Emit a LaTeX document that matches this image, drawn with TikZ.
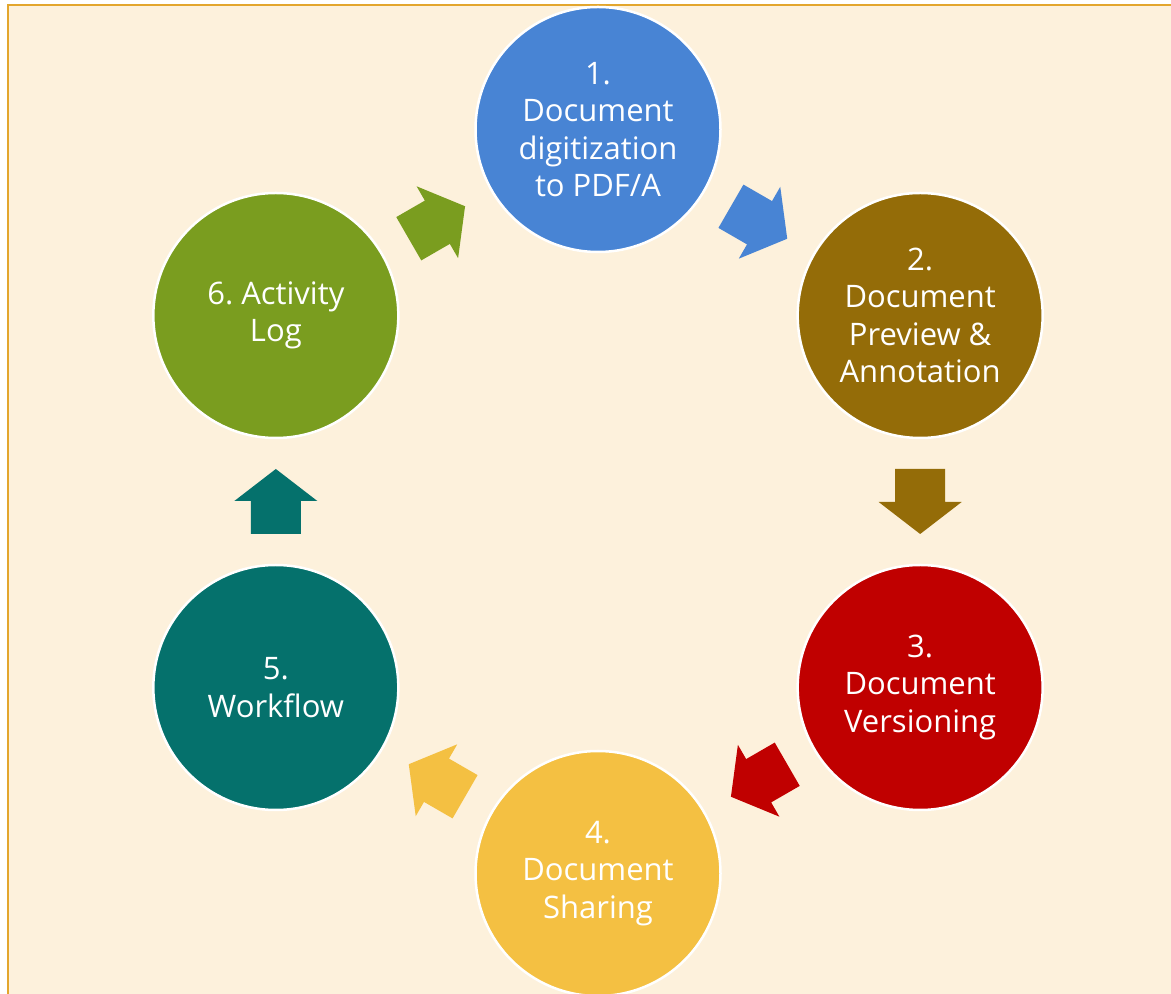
\documentclass[tikz,border=0pt]{standalone}
\usepackage{fontspec}
\setmainfont{Open Sans}
\usetikzlibrary{calc}

\definecolor{pagebg}{HTML}{FDF1DC}
\definecolor{frameline}{HTML}{E3A62D}
\definecolor{stepblue}{HTML}{4884D4}
\definecolor{stepbrown}{HTML}{946C08}
\definecolor{stepred}{HTML}{C00000}
\definecolor{stepyellow}{HTML}{F4C042}
\definecolor{stepteal}{HTML}{05716C}
\definecolor{stepgreen}{HTML}{7A9D1F}

\tikzset{
  stage/.style={circle, draw=white, line width=2.5pt, minimum size=245pt,
    inner sep=0pt, text=white, align=center,
    font=\fontsize{31}{37.5}\selectfont},
  blockarrow/.pic={
    \path[pic actions] (-32.5,-25) -- (0.5,-25) -- (0.5,-41.5) -- (32.5,0)
      -- (0.5,41.5) -- (0.5,25) -- (-32.5,25) -- cycle;
  }
}

\begin{document}
\begin{tikzpicture}[x=1pt, y=1pt]
  \useasboundingbox (0,0) rectangle (1171,994);
  % page background and frame
  \fill[white] (0,0) rectangle (1171,994);
  \fill[pagebg] (8,0) rectangle (1171,988.5);
  \draw[frameline, line width=2pt] (8,-5) -- (8,988.5) -- (1180,988.5);

  % ring of stages
  \coordinate (O) at (598,492.5);
  \node[stage, fill=stepblue]   (n1) at ($(O)+(90:372)$)  {1.\\Document\\digitization\\to PDF/A};
  \node[stage, fill=stepbrown]  (n2) at ($(O)+(30:372)$)  {2.\\Document\\Preview \&\\Annotation};
  \node[stage, fill=stepred]    (n3) at ($(O)+(-30:372)$) {3.\\Document\\Versioning};
  \node[stage, fill=stepyellow] (n4) at ($(O)+(-90:372)$) {4.\\Document\\Sharing};
  \node[stage, fill=stepteal]   (n5) at ($(O)+(210:372)$) {5.\\Workflow};
  \node[stage, fill=stepgreen]  (n6) at ($(O)+(150:372)$) {6.\ Activity\\Log};

  % block arrows between consecutive stages
  \coordinate (m12) at ($(n1)!0.5!(n2)$);
  \coordinate (m23) at ($(n2)!0.5!(n3)$);
  \coordinate (m34) at ($(n3)!0.5!(n4)$);
  \coordinate (m45) at ($(n4)!0.5!(n5)$);
  \coordinate (m56) at ($(n5)!0.5!(n6)$);
  \coordinate (m61) at ($(n6)!0.5!(n1)$);
  \pic[fill=stepblue,   rotate=-30]  at (m12) {blockarrow};
  \pic[fill=stepbrown,  rotate=-90]  at (m23) {blockarrow};
  \pic[fill=stepred,    rotate=-150] at (m34) {blockarrow};
  \pic[fill=stepyellow, rotate=150]  at (m45) {blockarrow};
  \pic[fill=stepteal,   rotate=90]   at (m56) {blockarrow};
  \pic[fill=stepgreen,  rotate=30]   at (m61) {blockarrow};
\end{tikzpicture}
\end{document}
